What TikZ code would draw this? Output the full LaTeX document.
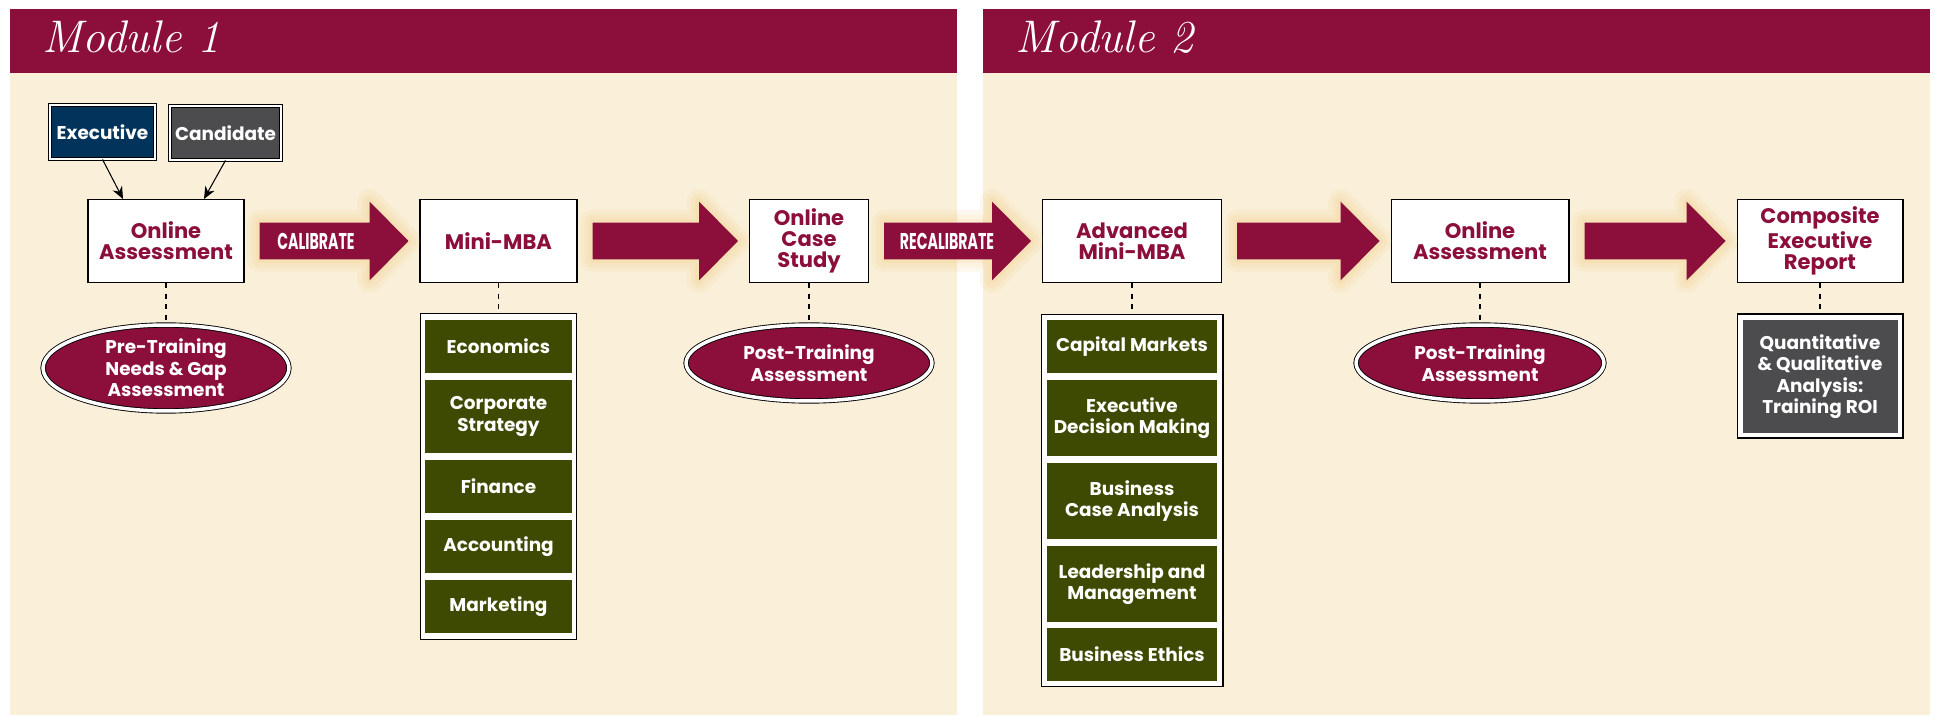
\documentclass[tikz,border=0pt]{standalone}
\usepackage{fontspec}
\setsansfont{Poppins}
\newfontfamily\condfont[FakeStretch=0.62]{Poppins}
\usetikzlibrary{arrows.meta,calc,shapes.geometric}

\definecolor{maroon}{RGB}{140,14,58}
\definecolor{tan}{RGB}{250,240,218}
\definecolor{navy}{RGB}{2,51,90}
\definecolor{slate}{RGB}{76,76,78}
\definecolor{olive}{RGB}{62,73,2}
\definecolor{glowc}{RGB}{240,190,95}

\tikzset{
  panel/.style={fill=tan},
  banner/.style={fill=maroon},
  moduletitle/.style={anchor=base west, inner sep=0, text=white, font=\rmfamily\itshape\fontsize{26}{30}\selectfont},
  stepbox/.style={draw=black, line width=0.6pt, fill=white, text=maroon, align=center, inner sep=0,
    minimum height=1.66cm, font=\sffamily\bfseries\fontsize{12}{12}\selectfont},
  who/.style={draw=black, line width=0.5pt, double=white, double distance=1.4pt, text=white, inner sep=0,
    minimum height=1.08cm, font=\sffamily\bfseries\fontsize{10.5}{12}\selectfont},
  assess/.style={ellipse, draw=black, line width=0.5pt, double=white, double distance=2pt, fill=maroon,
    text=white, align=center, inner sep=0, font=\sffamily\bfseries\fontsize{10.5}{12.2}\selectfont},
  listframe/.style={draw=black, line width=0.6pt, fill=white, inner sep=0},
  topic/.style={fill=olive, text=white, align=center, inner sep=0,
    font=\sffamily\bfseries\fontsize{10.5}{12.2}\selectfont},
  link/.style={dash pattern=on 3pt off 3pt, line width=0.6pt},
  feed/.style={-{Stealth[length=7pt,width=6pt]}, line width=0.6pt},
  glow/.style={draw=glowc, line join=round, opacity=0.1},
  flowtext/.style={text=white, inner sep=0, font=\condfont\bfseries\fontsize{13}{13}\selectfont},
}

% big maroon arrow from one box to the next
\newcommand\bigarrow[2]{%
  \path ($(#1.east)+(0.3cm,0cm)$) coordinate (#1-out) ($(#2.west)+(-0.22cm,0cm)$) coordinate (#2-in);
  \def\arrowpath{($(#1-out)+(0cm,0.37cm)$) -- ($(#2-in)+(-0.78cm,0.37cm)$) -- ($(#2-in)+(-0.78cm,0.79cm)$) -- (#2-in)
    -- ($(#2-in)+(-0.78cm,-0.79cm)$) -- ($(#2-in)+(-0.78cm,-0.37cm)$) -- ($(#1-out)+(0cm,-0.37cm)$) -- cycle}%
  \foreach \w in {14,9,4} {\draw[glow, line width=\w pt] \arrowpath;}
  \fill[maroon] \arrowpath;
}

\begin{document}
\begin{tikzpicture}[x=0.02cm, y=-0.02cm]
\useasboundingbox (0,0) rectangle (1935,716);

% panels
\fill[panel] (10,73) rectangle (957,715);
\fill[banner] (10,9) rectangle (957,73);
\fill[panel] (983,73) rectangle (1930,715);
\fill[banner] (983,9) rectangle (1930,73);
\node (m1) at (42,53) [moduletitle] {Module 1};
\node (m2) at (1015,53) [moduletitle] {Module 2};

% module 1
\node (exec) at (102.5,132) [who, fill=navy, minimum width=2.1cm] {Executive};
\node (cand) at (225.5,133) [who, fill=slate, minimum width=2.22cm] {Candidate};

\node (oa) at (166,241) [stepbox, minimum width=3.12cm] {Online\\Assessment};
\node (mini) at (498.5,241) [stepbox, minimum width=3.14cm] {Mini-MBA};
\node (case) at (809,241) [stepbox, minimum width=2.38cm] {Online\\Case\\Study};

\draw[feed] (exec.south) -- ([xshift=-0.86cm]oa.north);
\draw[feed] (cand.south) -- ([xshift=0.76cm]oa.north);

\node (pre) at (166,368) [assess, minimum width=4.92cm, minimum height=1.72cm] {Pre-Training\\Needs \& Gap\\Assessment};
\node (post1) at (809,363) [assess, minimum width=4.92cm, minimum height=1.52cm] {Post-Training\\Assessment};

\node (minilist) at (498.5,476.5) [listframe, minimum width=3.12cm, minimum height=6.54cm] {};
\node (econ) at (498.5,346.5) [topic, minimum width=2.94cm, minimum height=1.06cm] {Economics};
\node (strat) at (498.5,416.5) [topic, minimum width=2.94cm, minimum height=1.46cm] {Corporate\\Strategy};
\node (fin) at (498.5,486.5) [topic, minimum width=2.94cm, minimum height=1.06cm] {Finance};
\node (acct) at (498.5,546.5) [topic, minimum width=2.94cm, minimum height=1.06cm] {Accounting};
\node (mkt) at (498.5,606.5) [topic, minimum width=2.94cm, minimum height=1.06cm] {Marketing};

\draw[link] (oa) -- (pre);
\draw[link] (mini) -- (minilist);
\draw[link] (case) -- (post1);

% module 2
\node (adv) at (1132,241) [stepbox, minimum width=3.58cm] {Advanced\\Mini-MBA};
\node (oa2) at (1480,241) [stepbox, minimum width=3.56cm] {Online\\Assessment};
\node (comp) at (1820,241) [stepbox, minimum width=3.32cm] {Composite\\Executive\\Report};

\node (post2) at (1480,363) [assess, minimum width=4.96cm, minimum height=1.52cm] {Post-Training\\Assessment};

\node (advlist) at (1132,500.5) [listframe, minimum width=3.64cm, minimum height=7.46cm] {};
\node (cap) at (1132,346.5) [topic, minimum width=3.42cm, minimum height=1.06cm] {Capital Markets};
\node (edm) at (1132,418) [topic, minimum width=3.42cm, minimum height=1.52cm] {Executive\\Decision Making};
\node (bca) at (1132,501) [topic, minimum width=3.42cm, minimum height=1.52cm] {Business\\Case Analysis};
\node (lead) at (1132,584) [topic, minimum width=3.42cm, minimum height=1.52cm] {Leadership and\\Management};
\node (ethic) at (1132,654.5) [topic, minimum width=3.42cm, minimum height=1.06cm] {Business Ethics};

\node (roibox) at (1820,376) [listframe, minimum width=3.32cm, minimum height=2.48cm] {};
\node (roi) at (1820,376.5) [topic, fill=slate, minimum width=3.1cm, minimum height=2.26cm] {Quantitative\\\& Qualitative\\Analysis:\\Training ROI};

\draw[link] (adv) -- (advlist);
\draw[link] (oa2) -- (post2);
\draw[link] (comp) -- (roibox);

% flow arrows
\bigarrow{oa}{mini}
\bigarrow{mini}{case}
\bigarrow{case}{adv}
\bigarrow{adv}{oa2}
\bigarrow{oa2}{comp}
\node (calib) at ($(oa-out)+(1.13cm,0cm)$) [flowtext] {CALIBRATE};
\node (recalib) at ($(case-out)+(1.26cm,0cm)$) [flowtext] {RECALIBRATE};

\end{tikzpicture}
\end{document}
